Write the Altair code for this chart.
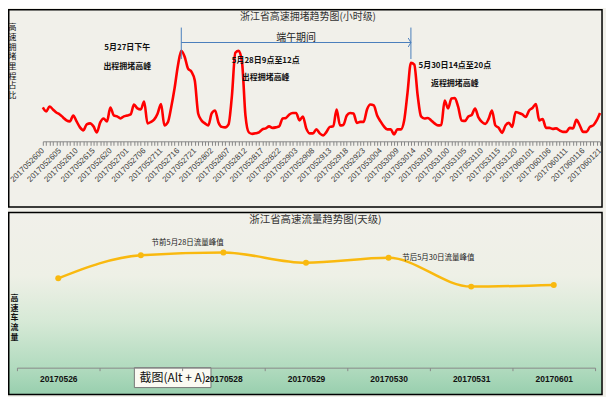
import json
import altair as alt
import pandas as pd

# ---------------- data ----------------
DAYS = ["20170526", "20170527", "20170528", "20170529", "20170530", "20170531", "20170601"]
HOUR_LABELS = [d + f"{h:02d}" for d in DAYS for h in range(24)][:166]
SHOWN_LABELS = HOUR_LABELS[::5]

CONGESTION = [
    3.4, 3.0, 3.5, 3.2, 2.9, 2.7, 2.4, 2.1, 2.0, 2.6,
    2.0, 1.4, 1.1, 1.7, 1.8, 1.5, 0.9, 1.9, 2.3, 2.0,
    3.4, 2.6, 2.5, 2.3, 2.5, 2.6, 2.7, 3.7, 3.3, 3.2,
    4.0, 1.8, 1.95, 2.2, 2.8, 3.75, 1.6, 1.9, 3.4, 5.3,
    7.6, 9.1, 8.5, 7.3, 7.0, 6.1, 2.8, 2.1, 1.8, 1.6,
    2.8, 3.1, 1.9, 1.45, 1.4, 1.7, 4.6, 8.9, 9.1, 7.9,
    2.6, 0.9, 0.75, 0.8, 0.9, 1.2, 1.3, 1.5, 1.35, 1.4,
    1.5, 2.3, 2.35, 2.7, 2.85, 2.85, 2.1, 2.5, 1.3, 0.8,
    0.8, 1.2, 0.8, 0.6, 0.95, 1.45, 1.5, 3.2, 1.6, 1.65,
    2.6, 2.85, 2.8, 1.85, 1.95, 1.95, 3.2, 3.7, 3.6, 2.6,
    2.0, 1.5, 1.2, 1.2, 0.7, 1.2, 1.2, 2.1, 4.9, 7.9,
    7.7, 4.6, 2.5, 2.3, 2.35, 2.1, 1.8, 1.6, 1.65, 4.1,
    3.3, 4.3, 4.35, 3.45, 2.1, 2.05, 2.5, 2.65, 3.3, 2.4,
    1.95, 1.75, 2.25, 3.1, 1.6, 1.35, 0.85, 1.6, 1.85, 1.45,
    2.95, 2.85, 2.7, 2.45, 3.1, 3.35, 3.75, 2.1, 2.25, 1.35,
    1.35, 1.25, 1.3, 1.1, 0.95, 0.95, 1.35, 1.3, 2.15, 1.6,
    0.95, 0.95, 1.45, 1.6, 2.1, 2.85,
]

FLOW = [270, 340, 348, 317, 332, 245, 250]

TOP_TITLE = "浙江省高速拥堵趋势图(小时级)"
TOP_YTITLE = list("高速拥堵里程占比")
BOT_TITLE = "浙江省高速流量趋势图(天级)"
BOT_YTITLE = list("高速车流量")

ANNOT_TEXT = ["5月27日下午", "出程拥堵高峰", "5月28日9点至12点", "出程拥堵高峰", "5月30日14点至20点", "返程拥堵高峰"]
ANNOT_HOUR = ["2017052701", "2017052701", "2017052818", "2017052818", "2017053102", "2017053102"]
ANNOT_Y = [9.4, 7.5, 8.1, 6.4, 7.6, 5.8]

HOLIDAY_TEXT = "端午期间"
HOLIDAY_START = "2017052717"
HOLIDAY_END = "2017053013"
HOLIDAY_MID = "2017052903"
BRACKET_TOP, BRACKET_BOTTOM, BRACKET_LEVEL, HOLIDAY_TEXT_Y = 11.43, 8.27, 9.93, 10.4

FLOW_NOTE_TEXT = ["节前5月28日流量峰值", "节后5月30日流量峰值"]
FLOW_NOTE_DAY = ["20170528", "20170530"]
FLOW_NOTE_Y = [376, 331]
FLOW_NOTE_DX = [-36, 50]

TIP_TEXT = "截图(Alt + A)"

CJK = "Noto Sans CJK SC"
BG = "#f1f0ea"
BLUE = "#4a7ebb"

one = pd.DataFrame({"k": [0]})

# panel frame, relative to each view's origin (both views share the same left origin)
FRAME_L, FRAME_R = -8.25, 588

# ---------------- top panel ----------------
W1, H1 = 586, 120
top_df = pd.DataFrame({"hour": HOUR_LABELS, "ratio": CONGESTION})

label_expr = "indexof(" + json.dumps(SHOWN_LABELS) + ", datum.value) >= 0 ? datum.label : ''"
x_top = alt.X(
    "hour:O", sort=None,
    scale=alt.Scale(type="point", padding=0, domain=HOUR_LABELS, range=[26, 586]),
    axis=alt.Axis(title=None, labelExpr=label_expr, labelAngle=315, labelAlign="right",
                  labelBaseline="middle", labelFont="Liberation Sans", labelFontSize=8,
                  labelColor="#404040", labelPadding=4, tickSize=4, tickColor="#868686",
                  domainColor="#868686", labelOverlap=False, grid=False, zindex=1),
)
y_top = alt.Y("ratio:Q", scale=alt.Scale(domain=[0, 12]), axis=None)

top_bg = alt.Chart(one).mark_rect(fill=BG, stroke="#000", strokeWidth=1.5).encode(
    x=alt.value(FRAME_L), x2=alt.value(FRAME_R), y=alt.value(-12.25), y2=alt.value(H1 + 66))

top_line = alt.Chart(top_df).mark_line(color="#ff0000", strokeWidth=2.6, interpolate="monotone").encode(
    x=x_top, y=y_top)

annot_df = pd.DataFrame({"hour": ANNOT_HOUR, "ratio": ANNOT_Y, "t": ANNOT_TEXT})
top_annot = alt.Chart(annot_df).mark_text(font=CJK, fontSize=8, fontWeight="bold", color="#111",
                                          baseline="middle").encode(x=x_top, y=y_top, text="t:N")

vr_df = pd.DataFrame({"hour": [HOLIDAY_START, HOLIDAY_END],
                      "ratio": [BRACKET_TOP] * 2, "ratio2": [BRACKET_BOTTOM] * 2})
vrules = alt.Chart(vr_df).mark_rule(color=BLUE, strokeWidth=1).encode(
    x=x_top, y=y_top, y2="ratio2:Q")
hr_df = pd.DataFrame({"hour": [HOLIDAY_START], "hour2": [HOLIDAY_END], "ratio": [BRACKET_LEVEL]})
hrule = alt.Chart(hr_df).mark_rule(color=BLUE, strokeWidth=1).encode(
    x=x_top, x2="hour2:O", y=y_top)
arrow_df = pd.DataFrame({"hour": [HOLIDAY_END], "ratio": [BRACKET_LEVEL]})
arrow = alt.Chart(arrow_df).mark_point(shape="M-0.6,-1L0,0L-0.6,1", filled=False, size=80,
                                       color=BLUE, strokeWidth=1, opacity=1).encode(x=x_top, y=y_top)
hol_df = pd.DataFrame({"hour": [HOLIDAY_MID], "ratio": [HOLIDAY_TEXT_Y], "t": [HOLIDAY_TEXT]})
hol_text = alt.Chart(hol_df).mark_text(font=CJK, fontSize=10, color="#222", baseline="middle").encode(
    x=x_top, y=y_top, text="t:N")

top_title = alt.Chart(one).mark_text(text=TOP_TITLE, font=CJK, fontSize=10, color="#333",
                                     baseline="middle").encode(x=alt.value(292.5), y=alt.value(-5))
top_ytitle = alt.Chart(one).mark_text(text=TOP_YTITLE, lineHeight=9.7, font=CJK,
                                      fontSize=8, color="#111", baseline="middle").encode(
    x=alt.value(-4.5), y=alt.value(6.5))

top = alt.layer(top_bg, top_line, top_annot, vrules, hrule, arrow, hol_text, top_title, top_ytitle
                ).properties(width=W1, height=H1)

# ---------------- bottom panel ----------------
W2, H2 = 581, 133
bot_df = pd.DataFrame({"day": DAYS, "flow": FLOW})
x_bot = alt.X(
    "day:O", sort=None, bandPosition=0.5,
    scale=alt.Scale(type="band", paddingInner=0, paddingOuter=0, domain=DAYS),
    axis=alt.Axis(title=None, tickBand="extent", labelAngle=0, labelFont="Liberation Sans",
                  labelFontSize=8.5, labelFontWeight="bold", labelColor="#111", tickSize=3,
                  labelPadding=4, domainColor="#888", tickColor="#888", grid=False, zindex=1,
                  labelExpr="datum.value == '20170527' ? '' : datum.label"),
)
y_bot = alt.Y("flow:Q", scale=alt.Scale(domain=[0, 400]), axis=None)

grad = alt.LinearGradient(
    gradient="linear", x1=0, x2=0, y1=0, y2=1,
    stops=[alt.GradientStop(color=BG, offset=0),
           alt.GradientStop(color="#eef0e6", offset=0.35),
           alt.GradientStop(color="#d6e9d6", offset=0.6),
           alt.GradientStop(color="#b2dbbf", offset=0.85),
           alt.GradientStop(color="#98cfae", offset=1)])
bot_bg = alt.Chart(one).mark_rect(fill=grad, stroke="#000", strokeWidth=1.5).encode(
    x=alt.value(FRAME_L), x2=alt.value(FRAME_R), y=alt.value(-23), y2=alt.value(H2 + 27))

bot_line = alt.Chart(bot_df).mark_line(color="#f9b90f", strokeWidth=2.5, interpolate="monotone",
                                       point=alt.OverlayMarkDef(filled=True, size=36, color="#f9b90f")
                                       ).encode(x=x_bot, y=y_bot)

note_df = pd.DataFrame({"day": FLOW_NOTE_DAY, "flow": FLOW_NOTE_Y, "t": FLOW_NOTE_TEXT})
notes = [
    alt.Chart(note_df.iloc[[i]]).mark_text(font=CJK, fontSize=7.5, color="#222", baseline="middle",
                                           dx=int(FLOW_NOTE_DX[i])).encode(x=x_bot, y=y_bot, text="t:N")
    for i in range(len(FLOW_NOTE_TEXT))
]

bot_title = alt.Chart(one).mark_text(text=BOT_TITLE, font=CJK, fontSize=10.5, color="#333",
                                     baseline="middle").encode(x=alt.value(300), y=alt.value(-15))
bot_ytitle = alt.Chart(one).mark_text(text=BOT_YTITLE, lineHeight=9.7, font=CJK,
                                      fontSize=8, fontWeight="bold", color="#111", baseline="middle").encode(
    x=alt.value(-2.5), y=alt.value(64))

tip_box = alt.Chart(one).mark_rect(fill="#fafaf2", stroke="#777", strokeWidth=1).encode(
    x=alt.value(118), x2=alt.value(195), y=alt.value(133), y2=alt.value(153))
tip_text = alt.Chart(one).mark_text(text=TIP_TEXT, font=CJK, fontSize=12, color="#111",
                                    baseline="middle").encode(x=alt.value(156.5), y=alt.value(143))

bottom = alt.layer(bot_bg, bot_line, *notes, bot_title, bot_ytitle, tip_box, tip_text
                   ).properties(width=W2, height=H2)

chart = alt.vconcat(top, bottom, spacing=3.5).properties(
    padding=0, background=BG
).configure_view(stroke=None)

chart.save("out.html", embed_options={"renderer": "svg", "actions": False})
